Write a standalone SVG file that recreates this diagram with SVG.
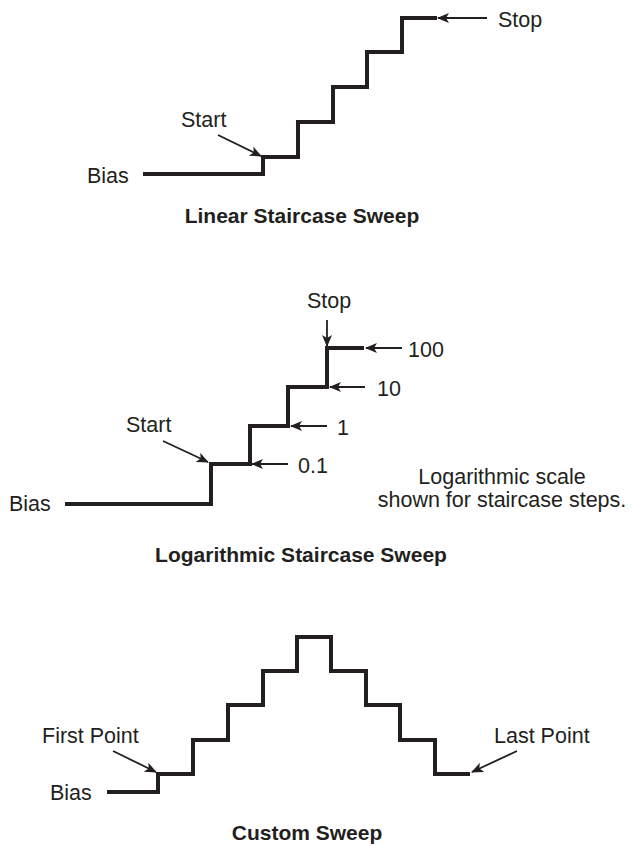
<svg xmlns="http://www.w3.org/2000/svg" width="633" height="846" viewBox="0 0 633 846">
<style>
.lbl{font-family:"Liberation Sans",Arial,sans-serif;font-size:21.5px;fill:#231f20}
.ttl{font-family:"Liberation Sans",Arial,sans-serif;font-size:21px;font-weight:bold;fill:#231f20;text-anchor:middle}
.stair{fill:none;stroke:#231f20;stroke-width:4;stroke-linejoin:miter;stroke-linecap:butt}
.arr{fill:none;stroke:#231f20;stroke-width:1.8;marker-end:url(#ah)}
</style>
<defs>
<marker id="ah" viewBox="0 0 12 10" refX="11" refY="5" markerWidth="12" markerHeight="10" markerUnits="userSpaceOnUse" orient="auto">
<path d="M0,0 L12,5 L0,10 L3,5 Z" fill="#231f20"/>
</marker>
</defs>
<rect width="633" height="846" fill="#fff"/>

<g id="linear">
<path class="stair" d="M143,174 H263 V157 H298 V122 H333 V87 H367 V52 H402 V18 H437"/>
<text class="lbl" x="87" y="183">Bias</text>
<text class="lbl" x="181" y="127">Start</text>
<text class="lbl" x="498" y="27">Stop</text>
<text class="ttl" x="302" y="223">Linear Staircase Sweep</text>
</g>

<g id="log">
<path class="stair" d="M65,504 H211 V464 H250 V426 H288 V387 H327 V348 H364"/>
<text class="lbl" x="9" y="511">Bias</text>
<text class="lbl" x="126" y="432">Start</text>
<text class="lbl" x="329" y="308" text-anchor="middle">Stop</text>
<text class="lbl" x="408" y="357">100</text>
<text class="lbl" x="377" y="396">10</text>
<text class="lbl" x="337" y="435">1</text>
<text class="lbl" x="298" y="473">0.1</text>
<text class="lbl" x="502" y="484" text-anchor="middle">Logarithmic scale</text>
<text class="lbl" x="502" y="507" text-anchor="middle">shown for staircase steps.</text>
<text class="ttl" x="301" y="562">Logarithmic Staircase Sweep</text>
</g>

<g id="custom">
<path class="stair" d="M107,792 H158 V774 H193 V740 H228 V705 H263 V671 H297 V637 H331 V671 H366 V705 H400 V740 H435 V774 H470"/>
<text class="lbl" x="50" y="800">Bias</text>
<text class="lbl" x="42" y="743">First Point</text>
<text class="lbl" x="494" y="743">Last Point</text>
<text class="ttl" x="307" y="840">Custom Sweep</text>
</g>

<g id="connectors">
<line class="arr" x1="487" y1="18" x2="438" y2="18"/>
<line class="arr" x1="218" y1="135" x2="261" y2="156"/>
<line class="arr" x1="327" y1="320" x2="327" y2="346"/>
<line class="arr" x1="402" y1="348" x2="366" y2="348"/>
<line class="arr" x1="365" y1="387" x2="330" y2="387"/>
<line class="arr" x1="327" y1="426" x2="291" y2="426"/>
<line class="arr" x1="288" y1="464" x2="252" y2="464"/>
<line class="arr" x1="163" y1="441" x2="208" y2="462"/>
<line class="arr" x1="113" y1="751" x2="156" y2="772"/>
<line class="arr" x1="517" y1="751" x2="472" y2="772"/>
</g>
</svg>
